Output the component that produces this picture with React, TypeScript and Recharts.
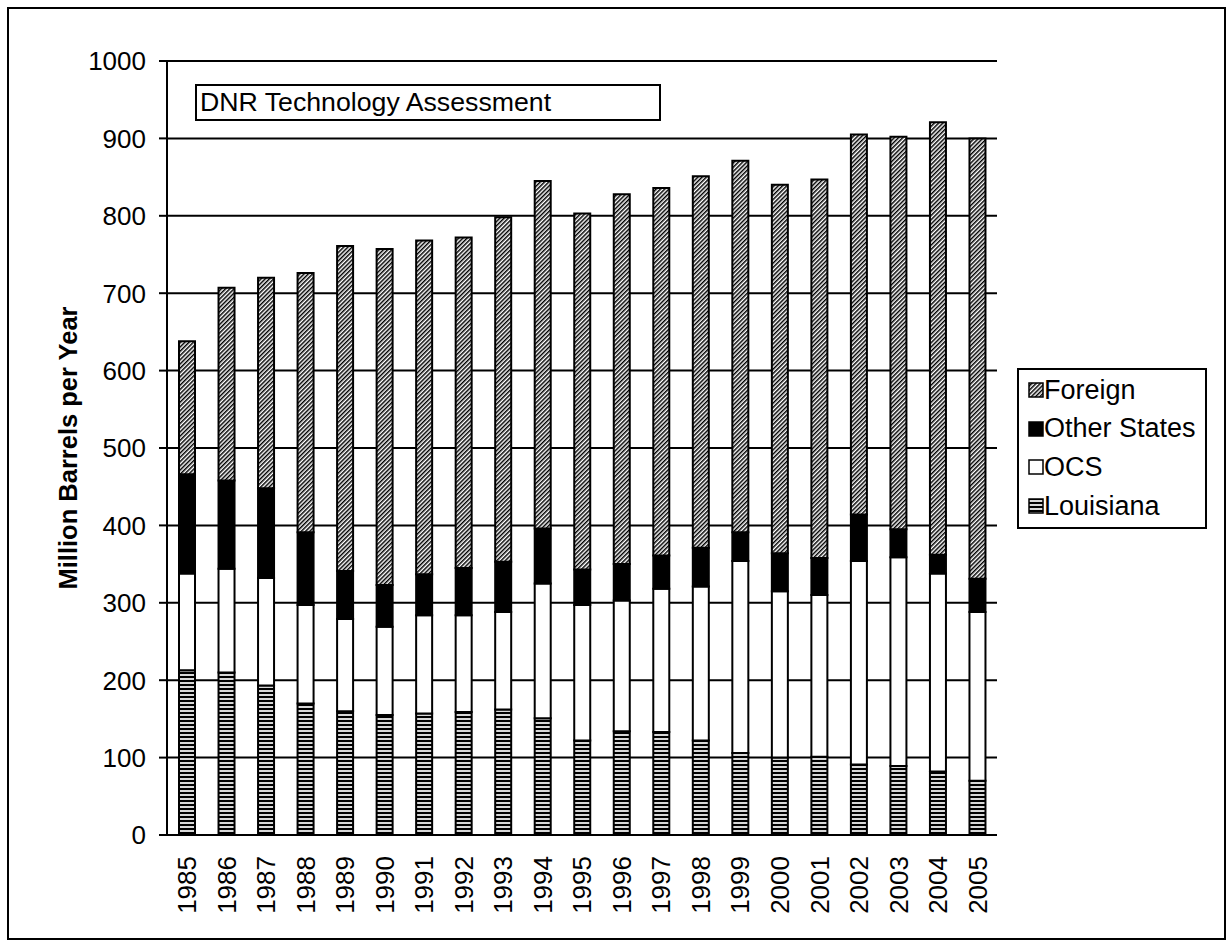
import React from 'react';
import { BarChart, Bar, XAxis, YAxis, CartesianGrid } from 'recharts';

const years = ['1985','1986','1987','1988','1989','1990','1991','1992','1993','1994','1995','1996','1997','1998','1999','2000','2001','2002','2003','2004','2005'];
const louisiana = [213,210,193,170,160,155,157,159,162,151,122,134,133,122,106,100,101,91,89,82,70];
const ocs = [125,134,139,127,119,114,127,125,126,174,175,169,185,199,248,215,209,263,270,256,218];
const otherStates = [128,114,116,94,62,54,53,61,65,71,46,47,43,50,37,49,48,60,36,24,43];
const foreign = [172,249,272,335,420,434,431,427,445,449,460,478,475,480,480,476,489,491,507,559,569];
const yTicks = [0,100,200,300,400,500,600,700,800,900,1000];
const titleText = 'DNR Technology Assessment';
const yLabel = 'Million Barrels per Year';

const data = years.map((y, i) => ({
  year: y,
  Louisiana: louisiana[i],
  OCS: ocs[i],
  'Other States': otherStates[i],
  Foreign: foreign[i],
}));

const FONT = '"Liberation Sans", Arial, Helvetica, sans-serif';

const legendItems = [
  { name: 'Foreign', fill: 'url(#foreignPat)' },
  { name: 'Other States', fill: '#000' },
  { name: 'OCS', fill: '#fff' },
  { name: 'Louisiana', fill: 'url(#laPat)' },
];

const XTick = (props: any) => {
  const { x, y, payload } = props;
  return (
    <text x={x} y={y} transform={`rotate(-90 ${x} ${y})`} textAnchor="end" dy="0.36em"
      fontSize={26} fontFamily={FONT} fill="#000">{payload.value}</text>
  );
};

const YTick = (props: any) => {
  const { x, y, payload } = props;
  return (
    <text x={x} y={y} textAnchor="end" dy="0.36em" fontSize={26} fontFamily={FONT} fill="#000">{payload.value}</text>
  );
};

export default function App() {
  return (
    <div style={{ position: 'absolute', left: 0, top: 0, width: 1231, height: 946, fontFamily: FONT, background: '#fff' }}>
      <svg width={0} height={0} style={{ position: 'absolute' }}>
        <defs>
          <pattern id="foreignPat" patternUnits="userSpaceOnUse" width={3} height={3} patternTransform="rotate(45)">
            <rect width={3} height={3} fill="#fff" />
            <rect width={1.5} height={3} fill="#000" />
          </pattern>
          <pattern id="laPat" patternUnits="userSpaceOnUse" width={4} height={4}>
            <rect width={4} height={4} fill="#d8d8d8" />
            <rect width={4} height={2} fill="#000" />
          </pattern>
        </defs>
      </svg>
      <div style={{ position: 'absolute', left: 7, top: 7, width: 1219, height: 933, border: '2px solid #000', boxSizing: 'border-box' }} />
      <div style={{ position: 'absolute', left: 0, top: 0 }}>
        <BarChart width={1231} height={946} data={data} barSize={16}
          margin={{ top: 61, right: 234, left: 67, bottom: 11 }}>
          <CartesianGrid vertical={false} stroke="#000" strokeWidth={2} />
          <XAxis dataKey="year" height={100} tickLine={false} axisLine={{ stroke: '#000', strokeWidth: 2 }}
            tick={<XTick />} tickSize={8} tickMargin={13} interval={0} />
          <YAxis domain={[0, 1000]} ticks={yTicks} width={100} interval={0}
            axisLine={{ stroke: '#000', strokeWidth: 2 }} tickLine={{ stroke: '#000', strokeWidth: 2 }}
            tickSize={8} tickMargin={13} tick={<YTick />}
            label={{
              content: (p: any) => {
                const vb = p.viewBox || { x: 67, y: 61, width: 100, height: 774 };
                const cx = vb.x + 1;
                const cy = vb.y + vb.height / 2;
                return (
                  <text x={cx} y={cy} transform={`rotate(-90 ${cx} ${cy})`} textAnchor="middle" dy="0.36em"
                    fontSize={25.5} fontWeight="bold" fontFamily={FONT} fill="#000">{yLabel}</text>
                );
              },
            }} />
          <YAxis yAxisId="right" orientation="right" width={0} tick={false} tickLine={false}
            axisLine={{ stroke: '#000', strokeWidth: 2 }} domain={[0, 1000]} />
          <Bar dataKey="Louisiana" stackId="a" fill="url(#laPat)" stroke="#000" strokeWidth={2} isAnimationActive={false} />
          <Bar dataKey="OCS" stackId="a" fill="#fff" stroke="#000" strokeWidth={2} isAnimationActive={false} />
          <Bar dataKey="Other States" stackId="a" fill="#000" stroke="#000" strokeWidth={2} isAnimationActive={false} />
          <Bar dataKey="Foreign" stackId="a" fill="url(#foreignPat)" stroke="#000" strokeWidth={2} isAnimationActive={false} />
        </BarChart>
      </div>
      <div style={{ position: 'absolute', left: 195, top: 84, width: 466, height: 37, border: '2px solid #000', boxSizing: 'border-box', background: '#fff', fontSize: 26.7, lineHeight: '33px', paddingLeft: 3, whiteSpace: 'nowrap' }}>
        {titleText}
      </div>
      <div style={{ position: 'absolute', left: 1017, top: 368, width: 190, height: 161, border: '2px solid #000', boxSizing: 'border-box', background: '#fff' }}>
        {legendItems.map((it, i) => (
          <div key={it.name} style={{ position: 'absolute', left: 9, top: 2 + i * 38.7, height: 36, display: 'flex', alignItems: 'center', whiteSpace: 'nowrap' }}>
            <svg width={16} height={16} style={{ marginRight: 0 }}>
              <rect x={1} y={1} width={14} height={14} fill={it.fill} stroke="#000" strokeWidth={1.5} />
            </svg>
            <span style={{ fontSize: 27 }}>{it.name}</span>
          </div>
        ))}
      </div>
    </div>
  );
}
